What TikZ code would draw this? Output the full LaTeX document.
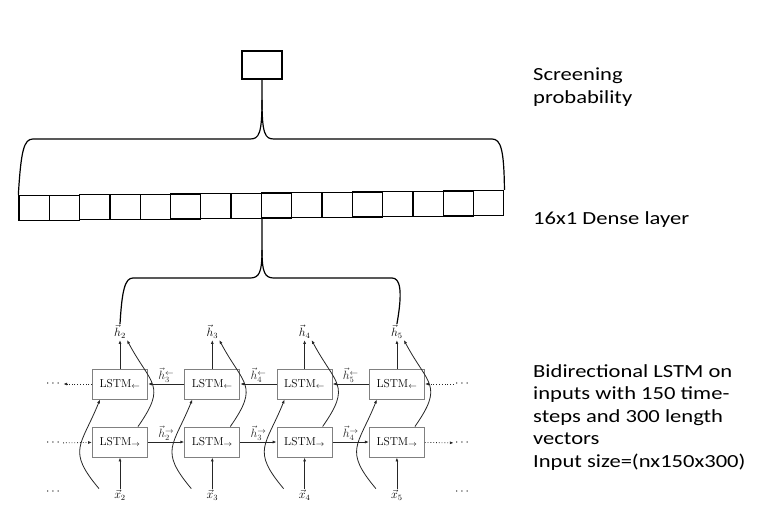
\documentclass[tikz,border=0pt]{standalone}
\usepackage{amsmath,amssymb}
\usepackage{fontspec}
\newfontfamily\notefont[FakeStretch=1.22]{Carlito}
\usetikzlibrary{arrows.meta}

\begin{document}
\begin{tikzpicture}[x=1pt,y=-1pt,>={Latex[length=4pt,width=3pt]},
    cell/.style={draw,line width=1.3pt,minimum width=30.3pt,minimum height=25pt,inner sep=0pt},
    lstm/.style={draw=black!50,line width=0.9pt,minimum width=55pt,minimum height=30pt,inner sep=0pt,font=\fontsize{11.5}{13}\selectfont},
    lab/.style={inner sep=1pt,font=\fontsize{11.5}{13}\selectfont},
    link/.style={black!85,line width=0.8pt},
    brace/.style={line width=1.2pt},
    note/.style={anchor=north west,inner sep=0pt,align=left,font=\notefont\fontsize{18.5}{22.5}\selectfont}]
    \useasboundingbox (0,0) rectangle (759,516);

    % output unit
    \node[draw,line width=1.2pt,minimum width=40pt,minimum height=28pt] (out) at (262,65) {};

    % dense layer, 16 cells
    \foreach \i in {1,...,16}
        \node[cell] (d\i) at ({19+30.3*(\i-0.5)},{208-0.33*(\i-1)}) {};

    % brace from the dense layer up to the output
    \coordinate (cusp1) at (262,100);
    \draw[brace] (out.south) -- (cusp1) .. controls (262,134) and (259,139) .. (250,139) -- (33,139) .. controls (24,139) and (21,150) .. (d1.north west);
    \draw[brace] (cusp1) .. controls (262,134) and (265,139) .. (274,139) -- (492,139) .. controls (501,139) and (504,150) .. (d16.north east);

    % bidirectional LSTM
    \foreach \t [count=\k from 0] in {2,...,5} {
        \node[lstm] (b\t) at ({120+92.3*\k},384) {LSTM$_{\leftarrow}$};
        \node[lstm] (f\t) at ({120+92.3*\k},442) {LSTM$_{\rightarrow}$};
        \node[lab] (h\t) at ({120+92.3*\k},332) {$\vec{h}_{\t}$};
        \node[lab] (x\t) at ({120+92.3*\k},495) {$\vec{x}_{\t}$};
    }
    \node[lab] (lb) at (54,384) {$\cdots$};
    \node[lab] (lf) at (54,443) {$\cdots$};
    \node[lab] (lx) at (54,492) {$\cdots$};
    \node[lab] (rb) at (463,384) {$\cdots$};
    \node[lab] (rf) at (463,443) {$\cdots$};
    \node[lab] (rx) at (463,492) {$\cdots$};

    \foreach \t in {2,...,5} {
        \draw[link,->] (x\t) -- (f\t);
        \draw[link,->] (b\t) -- (h\t);
        \draw[link,->] ([xshift=-21pt]x\t.north) to[out=130,in=-112,looseness=1.45] ([xshift=-20pt]b\t.south);
        \draw[link,->] ([xshift=18pt]f\t.north) to[out=55,in=-62,looseness=1.5] (h\t.south east);
    }
    \foreach \t/\n in {2/3,3/4,4/5} {
        \draw[link,->] (f\t) -- node[lab,above] {$\vec{h}_{\t}^{\rightarrow}$} (f\n);
        \draw[link,->] (b\n) -- node[lab,above] {$\vec{h}_{\n}^{\leftarrow}$} (b\t);
    }
    \draw[link,dotted,->] (b2) -- (lb);
    \draw[link,dotted,->] (lf) -- (f2);
    \draw[link,dotted,->] (rb) -- (b5);
    \draw[link,dotted,->] (f5) -- (rf);

    % brace from the LSTM outputs up to the dense layer
    \coordinate (cusp2) at (262,250);
    \draw[brace] (d8.south east) -- (cusp2) .. controls (262,273) and (259,278) .. (250,278) -- (133,278) .. controls (125,278) and (122,290) .. (h2.north);
    \draw[brace] (cusp2) .. controls (262,273) and (265,278) .. (274,278) -- (392,278) .. controls (400,278) and (403,290) .. (h5.north);

    % notes
    \node[note] (t1) at (533,68) {Screening\\probability};
    \node[note] (t2) at (533,211) {16x1 Dense layer};
    \node[note] (t3) at (533,364) {Bidirectional LSTM on\\inputs with 150 time-\\steps and 300 length\\vectors\\Input size=(nx150x300)};
\end{tikzpicture}
\end{document}
